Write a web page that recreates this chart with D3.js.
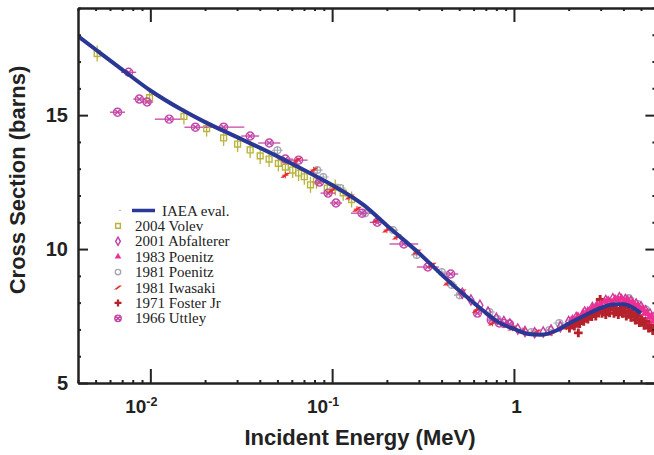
<!DOCTYPE html>
<html>
<head>
<meta charset="utf-8">
<script src="https://cdn.jsdelivr.net/npm/d3@7"></script>
<style>
  body { margin: 0; background: #fff; }
  svg { display: block; }
</style>
</head>
<body>
<div id="chart"></div>
<script>
// IAEA evaluation (energy in MeV, cross section in barns)
const evalEnergy = [0.004, 0.005, 0.007, 0.01, 0.015, 0.02, 0.03, 0.05, 0.07, 0.1, 0.15, 0.2, 0.3, 0.4, 0.5, 0.6, 0.7, 0.8, 1.0, 1.2, 1.4, 1.7, 2.0, 2.5, 3.0, 3.5, 4.0, 4.5, 5.0];
const evalXS = [17.95, 17.45, 16.7, 15.92, 15.19, 14.74, 14.18, 13.46, 12.95, 12.39, 11.63, 10.88, 9.85, 9.05, 8.45, 8.0, 7.62, 7.32, 7.02, 6.83, 6.8, 6.95, 7.22, 7.55, 7.8, 7.93, 7.94, 7.82, 7.6];

// measurements: [energy, sigma]
const volev2004 = [[0.0051,17.3],[0.0099,15.65],[0.0153,14.95],[0.0204,14.5],[0.0253,14.15],[0.0302,13.92],[0.0354,13.7],[0.0402,13.48],[0.045,13.36],[0.0506,13.2],[0.0553,13.06],[0.0607,12.95],[0.0654,12.84],[0.0703,12.7],[0.076,12.4],[0.082,12.55],[0.094,12.28],[0.104,12.3],[0.115,12.1],[0.128,11.85]];
const abfalterer2001 = [[0.52,8.35],[0.58,8.1],[0.65,7.9],[0.72,7.65],[0.8,7.42],[0.88,7.3],[0.95,7.2],[1.05,7.02],[1.15,6.92],[1.3,6.88],[1.45,6.9],[1.6,6.98],[1.8,7.1],[2.0,7.3],[2.2,7.45],[2.45,7.65],[2.7,7.82],[2.95,7.98],[3.2,8.08],[3.5,8.15],[3.8,8.18],[4.1,8.12],[4.4,8.05],[4.7,7.95],[5.0,7.85],[5.3,7.7],[5.6,7.58],[5.9,7.45]];
const poenitz1983 = [[2.1,7.4],[2.25,7.5],[2.4,7.62],[2.55,7.7],[2.7,7.8],[2.85,7.9],[3.0,7.95],[3.15,8.05],[3.3,8.1],[3.45,8.0],[3.6,8.15],[3.75,8.1],[3.9,8.18],[4.05,8.05],[4.2,8.12],[4.35,7.98],[4.5,8.02],[4.65,7.88],[4.8,7.9],[4.95,7.75],[5.1,7.78],[5.25,7.6],[5.4,7.62],[5.55,7.45],[5.7,7.5],[5.85,7.3],[6.0,7.35]];
const poenitz1981 = [[0.05,13.69],[0.0828,12.95],[0.0893,12.69],[0.1107,12.28],[0.1517,11.34],[0.216,10.71],[0.292,9.78],[0.401,9.14],[0.455,8.66],[0.503,8.28],[0.734,7.65],[0.812,7.39],[1.247,6.9],[1.566,6.98],[1.775,7.24],[2.1,7.35],[2.5,7.6],[2.9,7.9],[3.3,8.05],[3.7,8.12],[4.29,8.17],[4.8,7.95],[5.3,7.75]];
const iwasaki1981 = [[0.0553,12.76],[0.064,13.32],[0.079,12.95],[0.1,12.2],[0.125,11.94],[0.137,11.49],[0.176,11.08],[0.2,10.71],[0.227,10.45],[0.292,9.89],[0.353,9.4],[0.432,8.73],[0.516,8.4],[0.623,7.72],[0.763,7.24],[0.98,7.05],[1.11,6.95],[1.33,6.9],[1.62,6.87],[1.94,7.09],[2.3,7.35],[2.7,7.6],[3.1,7.7],[3.5,7.85],[3.9,7.8],[4.3,7.7],[4.7,7.55],[5.1,7.35],[5.5,7.2],[5.9,7.0]];
const foster1971 = [[2.02,7.05],[2.08,7.2],[2.15,7.12],[2.22,7.3],[2.26,6.87],[2.3,7.22],[2.36,7.4],[2.42,7.3],[2.48,7.45],[2.55,7.38],[2.62,7.55],[2.68,7.48],[2.75,7.62],[2.82,7.5],[2.9,7.68],[2.98,8.12],[3.05,7.6],[3.12,7.75],[3.2,7.55],[3.28,7.8],[3.36,7.62],[3.45,7.85],[3.55,7.6],[3.65,7.78],[3.75,7.55],[3.85,7.75],[3.95,7.6],[4.05,7.8],[4.15,7.5],[4.28,7.7],[4.4,7.45],[4.52,7.62],[4.65,7.35],[4.78,7.5],[4.9,7.25],[5.05,7.4],[5.2,7.15],[5.35,7.3],[5.5,7.05],[5.65,7.15],[5.8,6.95],[5.95,7.05]];
// [energy, sigma, relative energy spread]
const uttley1966 = [[0.0066,15.11,0.1],[0.0076,16.6,0.1],[0.0087,15.6,0.08],[0.0096,15.49,0.08],[0.0127,14.85,0.2],[0.0177,14.55,0.15],[0.0253,14.55,0.3],[0.0354,14.22,0.12],[0.0451,13.96,0.15],[0.0553,13.36,0.1],[0.0654,13.32,0.12],[0.0852,12.5,0.1],[0.095,12.09,0.1],[0.105,11.72,0.08],[0.146,11.34,0.15],[0.177,11.0,0.1],[0.248,10.19,0.2],[0.336,9.33,0.15],[0.449,9.07,0.1],[0.63,7.61,0.05],[0.75,7.35,0.05],[0.83,7.24,0.05],[0.88,7.22,0.05],[0.945,7.2,0.05]];

const legendNames = ["IAEA eval.", "2004 Volev", "2001 Abfalterer", "1983 Poenitz", "1981 Poenitz", "1981 Iwasaki", "1971 Foster Jr", "1966 Uttley"];
const yMajor = [5, 10, 15];
const xMajor = [0.01, 0.1, 1];

const W = 654, H = 455;
const svg = d3.select("#chart").append("svg").attr("width", W).attr("height", H);

const x = d3.scaleLog().domain([0.004, 6]).range([78, 655.4]);
const y = d3.scaleLinear().domain([5, 19]).range([383, 8]);

svg.append("clipPath").attr("id", "plotclip")
  .append("rect").attr("x", 79).attr("y", 9).attr("width", 576).attr("height", 373);

const plot = svg.append("g").attr("clip-path", "url(#plotclip)");

const colVolev = "#b9b53c", colAbf = "#c63fa4", colP83 = "#ee2f92", colP81 = "#a5a8b3",
      colIwa = "#ea2a2a", colFos = "#b5222c", colUtt = "#c447a8", colEval = "#2b3795";

// error bars
const bars = plot.append("g").attr("fill", "none");
bars.selectAll(".ev").data(volev2004).join("line")
  .attr("x1", d => x(d[0])).attr("x2", d => x(d[0]))
  .attr("y1", d => y(d[1] - 0.3)).attr("y2", d => y(d[1] + 0.3))
  .attr("stroke", colVolev).attr("stroke-width", 1.3);
bars.selectAll(".ep").data(poenitz1981).join("path")
  .attr("d", d => `M${x(d[0] * 0.93)},${y(d[1])}H${x(d[0] * 1.07)}M${x(d[0])},${y(d[1] - 0.15)}V${y(d[1] + 0.15)}`)
  .attr("stroke", colP81).attr("stroke-width", 1.2);
bars.selectAll(".eu").data(uttley1966).join("line")
  .attr("x1", d => x(d[0] / (1 + d[2]))).attr("x2", d => x(d[0] * (1 + d[2])))
  .attr("y1", d => y(d[1])).attr("y2", d => y(d[1]))
  .attr("stroke", colUtt).attr("stroke-width", 1.3);
bars.selectAll(".ei").data(iwasaki1981).join("path")
  .attr("d", d => `M${x(d[0] * 0.96)},${y(d[1])}H${x(d[0] * 1.04)}M${x(d[0])},${y(d[1] - 0.12)}V${y(d[1] + 0.12)}`)
  .attr("stroke", colIwa).attr("stroke-width", 1);

// symbols
const symSquare = d3.symbol(d3.symbolSquare, 34)();
const symDiamond = d3.symbol(d3.symbolDiamond, 30)();
const symTriangle = d3.symbol(d3.symbolTriangle, 30)();
const symCircle = d3.symbol(d3.symbolCircle, 36)();
const symCross = d3.symbol(d3.symbolCross, 42)();
const symSlant = "M-5,2.5L1.5,-2.5L5,-2.5L-1.5,2.5Z";
const symOtimes = "M-4,0A4,4 0 1,0 4,0A4,4 0 1,0 -4,0M-2.6,-2.6L2.6,2.6M-2.6,2.6L2.6,-2.6";

function drawSeries(data, path, fill, stroke, sw) {
  plot.append("g").selectAll("path").data(data).join("path")
    .attr("transform", d => `translate(${x(d[0])},${y(d[1])})`)
    .attr("d", path)
    .attr("fill", fill).attr("stroke", stroke).attr("stroke-width", sw);
}

drawSeries(volev2004, symSquare, "none", colVolev, 1.4);
drawSeries(poenitz1981, symCircle, "none", colP81, 1.3);
drawSeries(uttley1966, symOtimes, "none", colUtt, 1.4);
drawSeries(iwasaki1981, symSlant, colIwa, "none", 0);
drawSeries(abfalterer2001, symDiamond, "none", colAbf, 1.4);
drawSeries(foster1971, symCross, colFos, "none", 0);
drawSeries(poenitz1983, symTriangle, colP83, "none", 0);

// evaluation curve
const line = d3.line().x(d => x(d[0])).y(d => y(d[1])).curve(d3.curveMonotoneX);
plot.append("path")
  .datum(evalEnergy.map((e, i) => [e, evalXS[i]]))
  .attr("d", line)
  .attr("fill", "none").attr("stroke", colEval).attr("stroke-width", 4);

// axes
const xMinor = [];
for (let p = -3; p <= 0; p++) for (let m = 2; m <= 9; m++) {
  const v = m * Math.pow(10, p);
  if (v >= 0.004 && v <= 6) xMinor.push(v);
}
const yMinor = d3.range(5, 20).filter(v => yMajor.indexOf(v) < 0);

function styleAxis(g) {
  g.select(".domain").attr("stroke", "#222").attr("stroke-width", 2);
  g.selectAll(".tick line").attr("stroke", "#222").attr("stroke-width", 2);
}

svg.append("g").attr("transform", "translate(0,383)")
  .call(d3.axisBottom(x).tickValues(xMajor).tickSize(-14).tickSizeOuter(0).tickFormat(""))
  .call(styleAxis);
svg.append("g").attr("transform", "translate(0,383)")
  .call(d3.axisBottom(x).tickValues(xMinor).tickSize(-3).tickSizeOuter(0).tickFormat(""))
  .call(styleAxis);
svg.append("g").attr("transform", "translate(0,8)")
  .call(d3.axisTop(x).tickValues(xMajor).tickSize(-14).tickSizeOuter(0).tickFormat(""))
  .call(styleAxis);
svg.append("g").attr("transform", "translate(0,8)")
  .call(d3.axisTop(x).tickValues(xMinor).tickSize(-3).tickSizeOuter(0).tickFormat(""))
  .call(styleAxis);

const yAxis = svg.append("g").attr("transform", "translate(78,0)")
  .call(d3.axisLeft(y).tickValues(yMajor).tickSize(-10).tickSizeOuter(0).tickPadding(10))
  .call(styleAxis);
yAxis.selectAll("text")
  .attr("font-family", "'Liberation Sans', Arial, sans-serif")
  .attr("font-weight", "bold").attr("font-size", 20).attr("fill", "#222");
svg.append("g").attr("transform", "translate(78,0)")
  .call(d3.axisLeft(y).tickValues(yMinor).tickSize(-3).tickSizeOuter(0).tickFormat(""))
  .call(styleAxis);
svg.append("g").attr("transform", "translate(655.4,0)")
  .call(d3.axisRight(y).tickValues(yMajor).tickSize(-10).tickSizeOuter(0).tickFormat(""))
  .call(styleAxis);
svg.append("g").attr("transform", "translate(655.4,0)")
  .call(d3.axisRight(y).tickValues(yMinor).tickSize(-3).tickSizeOuter(0).tickFormat(""))
  .call(styleAxis);

// x tick labels with superscript exponents
const font = "'Liberation Sans', Arial, Helvetica, sans-serif";
xMajor.forEach(v => {
  const p = Math.round(Math.log10(v));
  const t = svg.append("text")
    .attr("y", 412.5).attr("font-family", font).attr("font-weight", "bold")
    .attr("font-size", 19).attr("fill", "#222").attr("text-anchor", "middle");
  if (p === 0) {
    t.attr("x", x(v) + 2.5).text("1");
  } else {
    t.attr("x", x(v) - 9);
    t.append("tspan").text("10");
    t.append("tspan").attr("font-size", 12.5).attr("dy", -7).text(String(p));
  }
});

svg.append("text")
  .attr("x", 360).attr("y", 445)
  .attr("text-anchor", "middle").attr("font-family", font)
  .attr("font-weight", "bold").attr("font-size", 22).attr("fill", "#222")
  .text("Incident Energy (MeV)");
svg.append("text")
  .attr("transform", "translate(25,180) rotate(-90)")
  .attr("text-anchor", "middle").attr("font-family", font)
  .attr("font-weight", "bold").attr("font-size", 22).attr("fill", "#222")
  .text("Cross Section (barns)");

// legend
const legendSyms = [null, [symSquare, "none", colVolev], [symDiamond, "none", colAbf], [symTriangle, colP83, "none"],
  [symCircle, "none", colP81], [symSlant, colIwa, "none"], [symCross, colFos, "none"], [symOtimes, "none", colUtt]];
const legend = svg.append("g");
legendNames.forEach((name, i) => {
  const ly = 210.5 + i * 15.4;
  if (i === 0) {
    legend.append("circle").attr("cx", 120).attr("cy", ly).attr("r", 0.7).attr("fill", "#8890c0");
    legend.append("line").attr("x1", 132).attr("x2", 155).attr("y1", ly).attr("y2", ly)
      .attr("stroke", colEval).attr("stroke-width", 3.5);
  } else {
    const s = legendSyms[i];
    legend.append("path").attr("transform", `translate(118,${ly}) scale(0.8)`)
      .attr("d", s[0]).attr("fill", s[1]).attr("stroke", s[2]).attr("stroke-width", 1.8);
  }
  legend.append("text")
    .attr("x", i === 0 ? 162 : 135).attr("y", ly + 5)
    .attr("font-family", "'Liberation Serif', 'Times New Roman', serif")
    .attr("font-size", 15).attr("fill", "#222")
    .text(name);
});
</script>
</body>
</html>
